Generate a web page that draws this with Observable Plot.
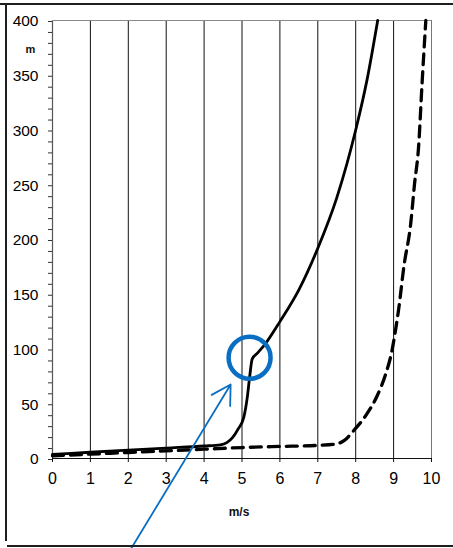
<!DOCTYPE html>
<html>
<head>
<meta charset="utf-8">
<script src="https://cdn.jsdelivr.net/npm/d3@7"></script>
<script src="https://cdn.jsdelivr.net/npm/@observablehq/plot@0.6"></script>
<style>
  html, body { margin: 0; padding: 0; background: #fff; }
  #wrap { position: relative; width: 453px; height: 548px; overflow: hidden; background: #fff; }
  #wrap svg { position: absolute; left: 0; top: 0; }
  .edge { position: absolute; background: #1e1e1e; }
</style>
</head>
<body>
<div id="wrap">
  <div id="chart"></div>
  <div class="edge" style="left:0;top:3px;width:453px;height:1.5px"></div>
  <div class="edge" style="left:5px;top:3px;width:1.5px;height:538px"></div>
  <div class="edge" style="left:7px;top:545px;width:446px;height:1.5px"></div>
</div>
<script>
// Solid curve: height (m) against speed (m/s)
const solidSpeed  = [0, 1, 2, 3, 4, 4.43, 4.6, 4.75, 4.9, 5.05, 5.14, 5.2, 5.27, 5.4, 5.6, 6.0, 6.5, 7.0, 7.5, 8.0, 8.3, 8.58];
const solidHeight = [3.8, 5.7, 7.6, 9.5, 11.4, 12.5, 14.5, 19, 27, 38, 56, 74, 91, 96, 104, 125, 154, 192, 238, 300, 346, 400];

// Dashed curve
const dashedSpeed  = [0, 1, 2, 3, 4, 5, 6, 7, 7.45, 7.7, 7.95, 8.3, 8.57, 8.79, 8.96, 9.05, 9.14, 9.27, 9.45, 9.55, 9.66, 9.75, 9.85];
const dashedHeight = [2.5, 4, 5.5, 7, 8.5, 10, 11, 12, 13, 16.5, 25.6, 41, 57.5, 77, 99, 117, 138, 175, 214, 250, 285, 342, 400];

// Axes
const xTicks = [0, 1, 2, 3, 4, 5, 6, 7, 8, 9, 10];
const xGrid = [1, 2, 3, 4, 5, 6, 7, 8, 9];
const yTicks = d3.range(0, 401, 10);
const xUnit = "m/s";
const yUnit = "m";

// Highlighted bend of the solid curve and the pointer toward it
const bendMark = [{x: 5.2, y: 92}];
const pointer = [{x1: 2.08, y1: -82, x2: 4.70, y2: 67.6}];

const solid = solidSpeed.map((s, i) => ({s, h: solidHeight[i]}));
const dashed = dashedSpeed.map((s, i) => ({s, h: dashedHeight[i]}));

const blue = "#0a6fc2";

const chart = Plot.plot({
  width: 453,
  height: 548,
  marginLeft: 52,
  marginRight: 22,
  marginTop: 20,
  marginBottom: 90,
  x: {domain: [0, 10], label: null},
  y: {domain: [0, 400], label: null},
  style: {fontFamily: "'Liberation Sans', Arial, sans-serif", background: "transparent", color: "#000", overflow: "visible"},
  marks: [
    Plot.ruleX(xGrid, {stroke: "#111", strokeWidth: 1}),
    Plot.ruleX([0], {stroke: "#555", strokeWidth: 1.2}),
    Plot.ruleX([10], {stroke: "#777", strokeWidth: 1}),
    Plot.ruleY([400], {stroke: "#8a8a8a", strokeWidth: 1}),
    Plot.ruleY([0], {stroke: "#111", strokeWidth: 1.2}),
    Plot.axisY({
      ticks: yTicks,
      tickSize: 4,
      tickPadding: 10,
      tickFormat: d => d % 50 === 0 ? String(d) : "",
      fontSize: 15.5,
      stroke: "#333",
      fill: "#000",
      label: null,
      dy: 1
    }),
    Plot.axisX({
      ticks: xTicks,
      tickSize: 4,
      tickPadding: 10,
      tickFormat: d => String(d),
      fontSize: 16,
      stroke: "#111",
      fill: "#000",
      label: null
    }),
    Plot.text([yUnit], {frameAnchor: "top-left", dx: -27, dy: 25, fontSize: 11, fontWeight: "bold", fill: "#111"}),
    Plot.text([xUnit], {frameAnchor: "bottom", dx: -3, dy: 57, fontSize: 12, fontWeight: "bold", fill: "#111"}),
    Plot.line(dashed, {x: "s", y: "h", curve: "monotone-x", stroke: "#000", strokeWidth: 3.3, strokeDasharray: "11,7"}),
    Plot.line(solid, {x: "s", y: "h", curve: "monotone-x", stroke: "#000", strokeWidth: 2.8}),
    Plot.dot(bendMark, {x: "x", y: "y", r: 21, stroke: blue, strokeWidth: 4.5, fill: "none"}),
    Plot.arrow(pointer, {x1: "x1", y1: "y1", x2: "x2", y2: "y2", stroke: blue, strokeWidth: 1.8, headLength: 18})
  ]
});
document.getElementById("chart").appendChild(chart);
</script>
</body>
</html>
